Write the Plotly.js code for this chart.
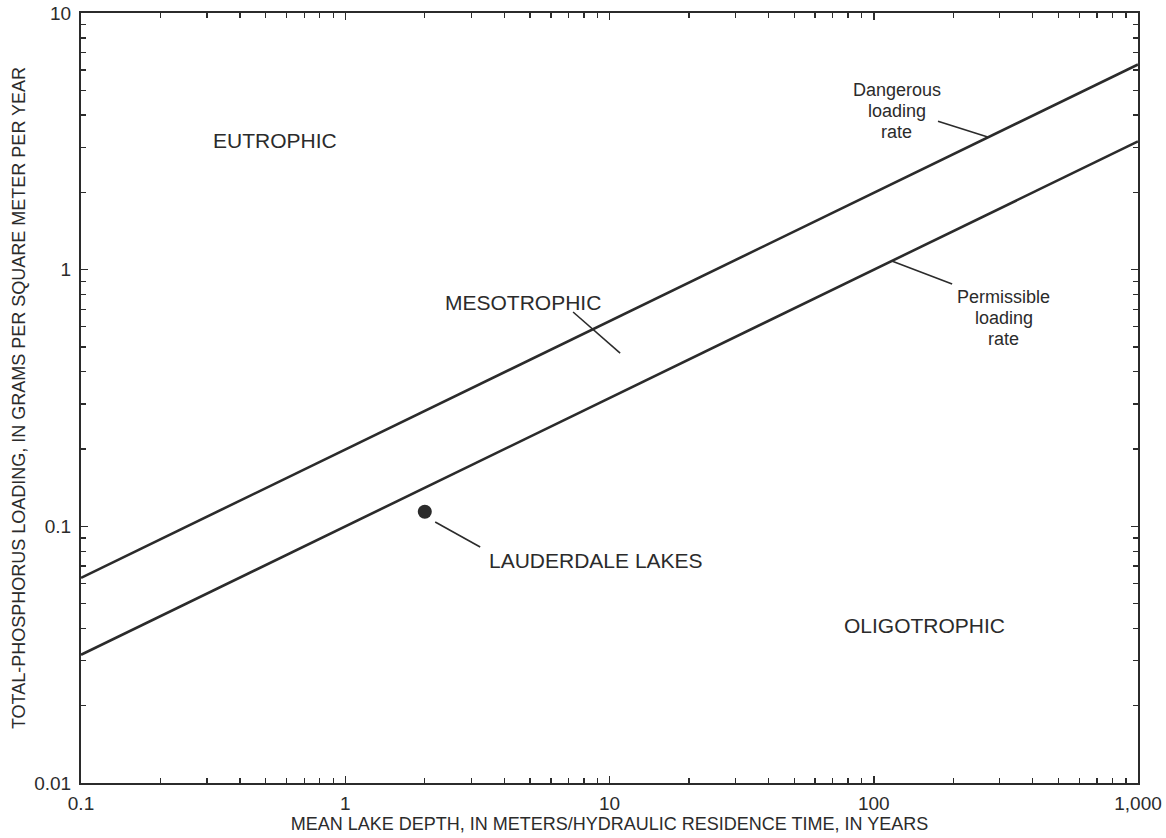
<!DOCTYPE html>
<html>
<head>
<meta charset="utf-8">
<script src="https://cdn.plot.ly/plotly-3.0.1.min.js"></script>
<style>html,body{margin:0;padding:0;background:#fff;}#chart{width:1166px;height:838px;}</style>
</head>
<body>
<div id="chart"></div>
<script>
// Boundary lines (Vollenweider-type loading criteria)
const lineX = [0.1, 1000];
const dangerousY = [0.063, 6.3];
const permissibleY = [0.0316, 3.16];

// Lake point
const lakeName = "LAUDERDALE LAKES";
const lakeX = [2.0];
const lakeY = [0.114];

// Tick labels
const xTickVals = [0.1, 1, 10, 100, 1000];
const xTickText = ["0.1", "1", "10", "100", "1,000"];
const yTickVals = [0.01, 0.1, 1, 10];
const yTickText = ["0.01", "0.1", "1", "10"];

// Leader lines (data coordinates)
const leaderMesoX = [7.28, 10.97];
const leaderMesoY = [0.684, 0.473];
const leaderDangerX = [175, 270];
const leaderDangerY = [3.79, 3.29];
const leaderPermX = [117, 198];
const leaderPermY = [1.08, 0.88];
const leaderLakeX = [2.19, 3.24];
const leaderLakeY = [0.104, 0.0831];

// Region and label texts
const regionLabels = [
  {text: "EUTROPHIC", x: 0.542, y: 3.2},
  {text: "MESOTROPHIC", x: 4.71, y: 0.748},
  {text: "OLIGOTROPHIC", x: 156, y: 0.0409},
  {text: lakeName, x: 8.89, y: 0.0733}
];
const dangerLines = ["Dangerous", "loading", "rate"];
const dangerLabelX = 122;
const dangerLabelY = [5.01, 4.15, 3.44];
const permLines = ["Permissible", "loading", "rate"];
const permLabelX = 311;
const permLabelY = [0.782, 0.648, 0.537];

const ink = "#2b2b2b";
const fontFam = "'Liberation Sans', Arial, Helvetica, sans-serif";

function lg(v){return Math.log10(v);}

const traces = [
  {x: lineX, y: dangerousY, mode: "lines", line: {color: ink, width: 2.6}, hoverinfo: "skip"},
  {x: lineX, y: permissibleY, mode: "lines", line: {color: ink, width: 2.6}, hoverinfo: "skip"},
  {x: leaderMesoX, y: leaderMesoY, mode: "lines", line: {color: ink, width: 1.6}, hoverinfo: "skip"},
  {x: leaderDangerX, y: leaderDangerY, mode: "lines", line: {color: ink, width: 1.6}, hoverinfo: "skip"},
  {x: leaderPermX, y: leaderPermY, mode: "lines", line: {color: ink, width: 1.6}, hoverinfo: "skip"},
  {x: leaderLakeX, y: leaderLakeY, mode: "lines", line: {color: ink, width: 1.6}, hoverinfo: "skip"},
  {x: lakeX, y: lakeY, mode: "markers", marker: {color: ink, size: 14}, name: lakeName}
];

const annotations = [];
regionLabels.forEach(r => annotations.push({x: lg(r.x), y: lg(r.y), xref: "x", yref: "y", text: r.text, showarrow: false, font: {family: fontFam, size: 21, color: ink}}));
dangerLines.forEach((t, i) => annotations.push({x: lg(dangerLabelX), y: lg(dangerLabelY[i]), xref: "x", yref: "y", text: t, showarrow: false, font: {family: fontFam, size: 18, color: ink}}));
permLines.forEach((t, i) => annotations.push({x: lg(permLabelX), y: lg(permLabelY[i]), xref: "x", yref: "y", text: t, showarrow: false, font: {family: fontFam, size: 18, color: ink}}));

const axisCommon = {
  type: "log",
  showgrid: false,
  zeroline: false,
  showline: true,
  linecolor: ink,
  linewidth: 2,
  mirror: "allticks",
  ticks: "inside",
  ticklen: 7,
  tickwidth: 1.5,
  tickcolor: ink,
  tickfont: {family: fontFam, size: 19, color: ink},
  minor: {ticks: "inside", ticklen: 5, tickwidth: 1.3, tickcolor: ink, dtick: "D1", showgrid: false}
};

const layout = {
  width: 1166, height: 838,
  margin: {l: 81, r: 28, t: 13, b: 55},
  paper_bgcolor: "#fff", plot_bgcolor: "#fff",
  showlegend: false,
  xaxis: Object.assign({}, axisCommon, {
    range: [-1, 3], tickmode: "array", tickvals: xTickVals, ticktext: xTickText,
    ticklabelstandoff: 2,
    title: {text: "MEAN LAKE DEPTH, IN METERS/HYDRAULIC RESIDENCE TIME, IN YEARS", font: {family: fontFam, size: 18, color: ink}, standoff: 3}
  }),
  yaxis: Object.assign({}, axisCommon, {
    range: [-2, 1], tickmode: "array", tickvals: yTickVals, ticktext: yTickText,
    ticklabelstandoff: 4,
    title: {text: "TOTAL-PHOSPHORUS LOADING, IN GRAMS PER SQUARE METER PER YEAR", font: {family: fontFam, size: 18, color: ink}, standoff: 4}
  }),
  annotations: annotations
};

Plotly.newPlot("chart", traces, layout, {displayModeBar: false, staticPlot: true});
</script>
</body>
</html>
